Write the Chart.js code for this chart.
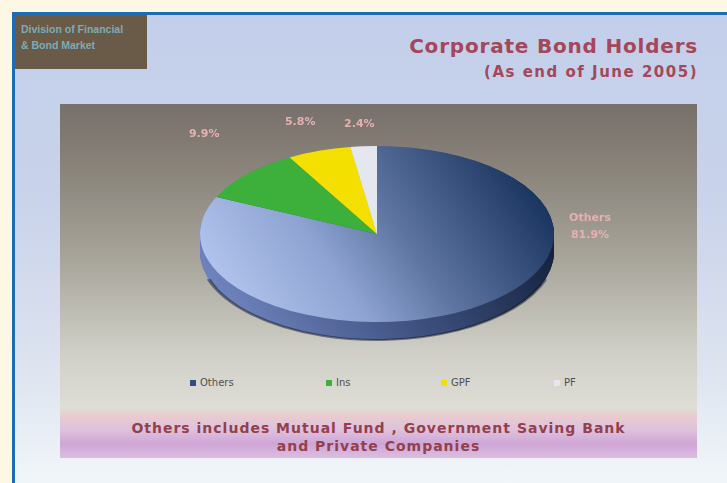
<!DOCTYPE html>
<html>
<head>
<meta charset="utf-8">
<script src="https://cdn.jsdelivr.net/npm/chart.js@4/dist/chart.umd.min.js"></script>
<style>
  html, body { margin: 0; padding: 0; }
  body { width: 727px; height: 483px; background: #fdf7e4; position: relative; overflow: hidden;
         font-family: "DejaVu Sans", "Liberation Sans", sans-serif; }
  #slide { position: absolute; left: 12px; top: 12px; width: 715px; height: 471px;
           border-left: 3px solid #1a6cb6; border-top: 3px solid #1a6cb6; box-sizing: border-box;
           background: linear-gradient(180deg, #c3cfea 0%, #c9d3ea 40%, #dde3ef 75%, #f1f6fa 100%); }
  #badge { position: absolute; left: 15px; top: 15px; width: 132px; height: 54px; background: #6a5a48;
           color: #7cadb6; font: bold 10.5px "Liberation Sans", sans-serif; line-height: 16px;
           padding: 6px 0 0 6px; box-sizing: border-box; white-space: nowrap; }
  #title { position: absolute; right: 29px; top: 34px; color: #a4475a; font: bold 20px "DejaVu Sans", sans-serif;
           letter-spacing: 0.8px; text-align: right; white-space: nowrap; }
  #subtitle { position: absolute; right: 29px; top: 63px; color: #a4475a; font: bold 15px "DejaVu Sans", sans-serif;
              letter-spacing: 1.5px; text-align: right; white-space: nowrap; }
  #panel { position: absolute; left: 60px; top: 104px; width: 637px; height: 354px;
           background: linear-gradient(180deg, #77706b 0%, #89837a 18%, #a9a69c 45%, #cfcfc7 70%, #dcdcd5 84%, #dedcd5 86%, #eacbcf 88%, #ddc2dc 92%, #cfa6d6 96%, #dcbde0 100%); }
  #chartbox { position: absolute; left: 60px; top: 104px; width: 637px; height: 260px; }
  #legend { position: absolute; top: 377px; left: 0; width: 727px; height: 14px; font: 10px "DejaVu Sans", sans-serif; color: #505050; }
  #legend .item { position: absolute; top: 0; display: flex; align-items: center; white-space: nowrap; }
  #legend .box { width: 6px; height: 6px; margin-right: 4px; }
  #note { position: absolute; left: 60px; width: 637px; top: 419px; text-align: center; color: #93404c;
          font: bold 14px "DejaVu Sans", sans-serif; letter-spacing: 1px; line-height: 18px; white-space: nowrap; }
</style>
</head>
<body>
<div id="slide"></div>
<div id="badge">Division of Financial<br>&amp; Bond Market</div>
<div id="title">Corporate Bond Holders</div>
<div id="subtitle">(As end of June 2005)</div>
<div id="panel"></div>
<div id="chartbox"><canvas id="c"></canvas></div>
<div id="legend"></div>
<div id="note">Others includes Mutual Fund , Government Saving Bank<br>and Private Companies</div>
<script>
// Holders of corporate bonds, share of outstanding value (%)
const holders = ["Others", "Ins", "GPF", "PF"];
const shares = [81.9, 9.9, 5.8, 2.4];
const shareLabels = ["81.9%", "9.9%", "5.8%", "2.4%"];
const sliceColors = ["#2f4d7e", "#3cb03a", "#f4e000", "#e4e8ee"];
const sideColors = ["#3c4f78", "#24801f", "#c7a800", "#b8bcc4"];

// Ellipse the flat pie is mapped to (pixels within the canvas) and rim depth
const ELLIPSE = { cx: 317, cy: 130, rx: 177, ry: 88, depth: 18 };
// Left edge of each legend entry (page pixels)
const legendLefts = [190, 326, 441, 554];

function mapTransform(ctx, arc) {
  const sx = ELLIPSE.rx / arc.outerRadius, sy = ELLIPSE.ry / arc.outerRadius;
  ctx.translate(ELLIPSE.cx, ELLIPSE.cy);
  ctx.scale(sx, sy);
  ctx.translate(-arc.x, -arc.y);
  return { sx, sy };
}

function othersGradient(ctx, arc, dark) {
  const r = arc.outerRadius;
  const g = ctx.createLinearGradient(arc.x - r, arc.y + r * 0.5, arc.x + r, arc.y - r * 0.2);
  if (dark) {
    g.addColorStop(0, "#7186c0");
    g.addColorStop(0.45, "#3f5280");
    g.addColorStop(1, "#0f1c36");
  } else {
    g.addColorStop(0, "#b6c8f0");
    g.addColorStop(0.35, "#8ea3d2");
    g.addColorStop(0.58, "#5f76a2");
    g.addColorStop(1, "#1a3460");
  }
  return g;
}

// Squashes the pie into a tilted ellipse, draws its rim and the value labels
const tiltPlugin = {
  id: "tilt",
  beforeDatasetsDraw(chart) {
    const ctx = chart.ctx;
    const arcs = chart.getDatasetMeta(0).data;
    ctx.save();
    const { sy } = mapTransform(ctx, arcs[0]);
    const depth = ELLIPSE.depth / sy;
    for (let d = depth; d > 0; d -= 0.5 / sy) {
      arcs.forEach((a, i) => {
        ctx.beginPath();
        ctx.moveTo(a.x, a.y + d);
        ctx.arc(a.x, a.y + d, a.outerRadius, a.startAngle, a.endAngle);
        ctx.closePath();
        ctx.fillStyle = i === 0 ? othersGradient(ctx, a, true) : sideColors[i];
        ctx.fill();
      });
    }
    const a0 = arcs[0];
    ctx.beginPath();
    ctx.arc(a0.x, a0.y + depth, a0.outerRadius, 0.1 * Math.PI, 0.9 * Math.PI);
    ctx.strokeStyle = "rgba(15,22,40,0.5)";
    ctx.lineWidth = 2 / sy;
    ctx.stroke();
  },
  afterDatasetsDraw(chart) {
    const ctx = chart.ctx;
    ctx.restore();
    const arcs = chart.getDatasetMeta(0).data;
    ctx.save();
    ctx.font = "bold 11px 'DejaVu Sans', sans-serif";
    ctx.fillStyle = "#e6b0b0";
    ctx.textAlign = "center";
    ctx.textBaseline = "middle";
    arcs.forEach((a, i) => {
      if (i === 0) {
        const x = ELLIPSE.cx + ELLIPSE.rx + 36;
        ctx.fillText(holders[0], x, ELLIPSE.cy - 16);
        ctx.fillText(shareLabels[0], x, ELLIPSE.cy + 1);
        return;
      }
      const mid = (a.startAngle + a.endAngle) / 2;
      const c = Math.cos(mid), s = Math.sin(mid);
      const ex = ELLIPSE.cx + c * ELLIPSE.rx, ey = ELLIPSE.cy + s * ELLIPSE.ry;
      ctx.fillText(shareLabels[i], ex + c * 58, ey - 20 - Math.abs(c) * 28);
    });
    ctx.restore();
  }
};

const chart = new Chart(document.getElementById("c"), {
  type: "pie",
  data: {
    labels: holders,
    datasets: [{
      data: shares,
      backgroundColor: (c) => {
        if (c.type !== "data") return sliceColors[0];
        if (c.dataIndex === 0) {
          const a = c.chart.getDatasetMeta(0).data[0];
          if (a && a.outerRadius) return othersGradient(c.chart.ctx, a, false);
        }
        return sliceColors[c.dataIndex];
      },
      borderWidth: 0
    }]
  },
  options: {
    responsive: true,
    maintainAspectRatio: false,
    animation: false,
    layout: { padding: 10 },
    plugins: { legend: { display: false }, tooltip: { enabled: false } }
  },
  plugins: [tiltPlugin]
});
chart.update();

// Legend built from the same series
const legendEl = document.getElementById("legend");
holders.forEach((name, i) => {
  const item = document.createElement("div");
  item.className = "item";
  item.style.left = legendLefts[i] + "px";
  const box = document.createElement("span");
  box.className = "box";
  box.style.background = sliceColors[i];
  const txt = document.createElement("span");
  txt.textContent = name;
  item.appendChild(box);
  item.appendChild(txt);
  legendEl.appendChild(item);
});
</script>
</body>
</html>
